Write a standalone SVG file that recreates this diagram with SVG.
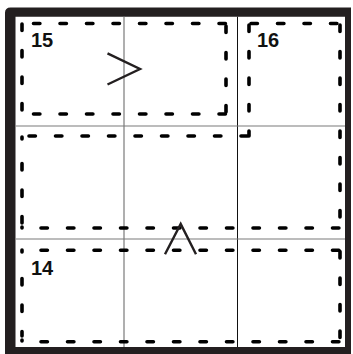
<svg xmlns="http://www.w3.org/2000/svg" width="353" height="354" viewBox="0 0 353 354">
<style>
.frame{fill:#231f20;fill-rule:evenodd}
.gl{stroke:#7a7a7a;stroke-width:1.2;fill:none}
.gd{stroke:#111;stroke-width:1;fill:none}
.d{stroke:#000;stroke-width:3.6;fill:none;stroke-linecap:round;stroke-dasharray:6.4 20.1}
.s{stroke:#000;stroke-width:3.6;fill:none;stroke-linecap:round}
.lbl{font-family:"Liberation Sans",Arial,sans-serif;font-weight:bold;font-size:20px;fill:#111}
.sym{stroke:#231f20;stroke-width:2.4;fill:none;stroke-linejoin:miter;stroke-linecap:butt}
</style>
<rect width="353" height="354" fill="#fff"/>
<g id="grid">
  <path class="frame" d="M5,13 Q5,7.5 10.5,7.5 H351 V356 H5 Z M15.5,16.7 V347 H345 V16.7 Z"/>
  <line class="gl" x1="124" y1="16.7" x2="124" y2="347"/>
  <line class="gd" x1="237.5" y1="16.7" x2="237.5" y2="347"/>
  <line class="gl" x1="15.5" y1="126" x2="345" y2="126"/>
  <line class="gl" x1="15.5" y1="239" x2="345" y2="239"/>
</g>
<g id="cage15">
  <line class="d" x1="33.5" y1="23.5" x2="226" y2="23.5"/>
  <line class="d" x1="33.5" y1="114" x2="226" y2="114"/>
  <line class="d" x1="226" y1="112" x2="226" y2="23.5"/>
  <line class="d" x1="22" y1="110" x2="22" y2="22.5"/>
  <text class="lbl" x="31" y="46.5">15</text>
</g>
<g id="cage16">
  <line class="d" x1="251" y1="23.5" x2="340" y2="23.5"/>
  <line class="d" x1="340" y1="25" x2="340" y2="228"/>
  <line class="d" x1="41" y1="228" x2="340" y2="228"/>
  <line class="d" x1="29" y1="136" x2="249" y2="136"/>
  <line class="d" x1="249" y1="25" x2="249" y2="136"/>
  <line class="s" x1="22" y1="137" x2="22" y2="139"/>
  <line class="d" x1="22" y1="163.5" x2="22" y2="224"/>
  <line class="s" x1="22" y1="227" x2="22" y2="228"/>
  <text class="lbl" x="257" y="46.5">16</text>
</g>
<g id="cage14">
  <line class="d" x1="41" y1="250.3" x2="340" y2="250.3"/>
  <line class="d" x1="41" y1="341.7" x2="340" y2="341.7"/>
  <line class="d" x1="340" y1="251.5" x2="340" y2="342"/>
  <line class="s" x1="22" y1="250" x2="22" y2="252"/>
  <line class="d" x1="22" y1="278.5" x2="22" y2="336"/>
  <line class="s" x1="22" y1="340" x2="22" y2="341"/>
  <text class="lbl" x="31" y="274.5">14</text>
</g>
<g id="connectors">
  <polyline class="sym" points="107.5,53.3 140,69 107.5,84.5"/>
  <polyline class="sym" points="165,254.3 180.7,224 196,254.3"/>
</g>
</svg>
